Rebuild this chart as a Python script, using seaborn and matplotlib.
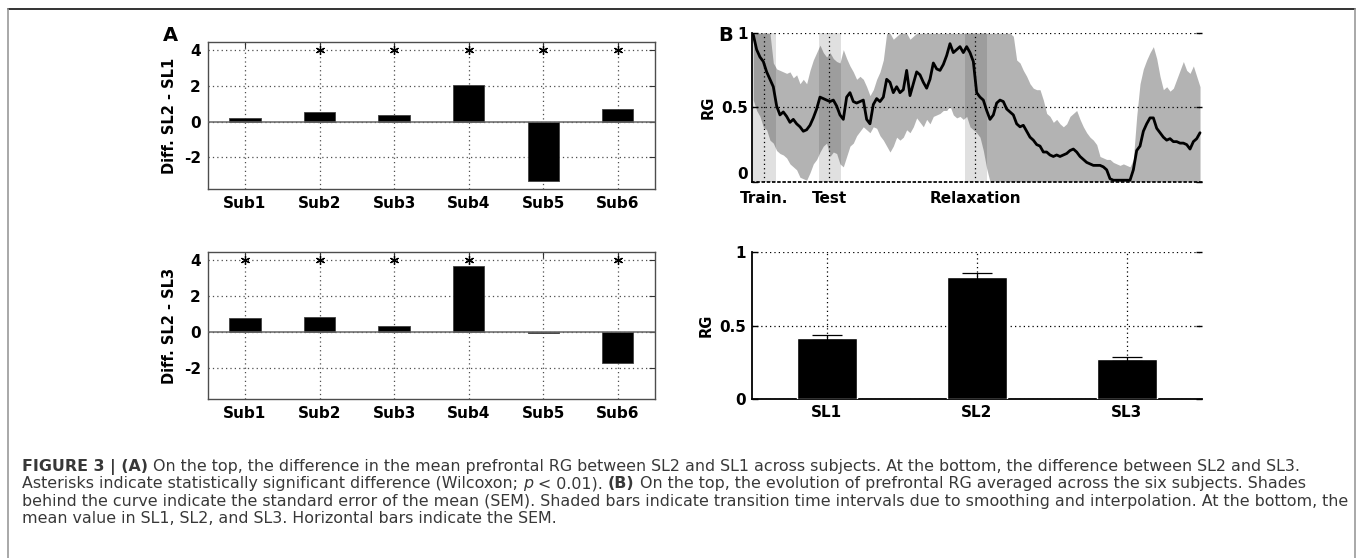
import numpy as np
import pandas as pd
import matplotlib
matplotlib.use("Agg")
import matplotlib.pyplot as plt
import seaborn as sns
from matplotlib.lines import Line2D

# ---------------- data ----------------
subjects = ["Sub1", "Sub2", "Sub3", "Sub4", "Sub5", "Sub6"]
diff_sl2_sl1 = [0.19, 0.56, 0.36, 2.06, -3.35, 0.70]
diff_sl2_sl3 = [0.74, 0.80, 0.30, 3.63, -0.05, -1.75]
sig_sl2_sl1 = [False, True, True, True, True, True]
sig_sl2_sl3 = [True, True, True, True, False, True]
sig_level = 4

levels = ["SL1", "SL2", "SL3"]
rg_mean = [0.42, 0.835, 0.275]
rg_sem = [0.018, 0.027, 0.014]

sample = np.arange(0, 1341, 10)
rg_curve = [
    0.99, 0.89, 0.84, 0.81, 0.74, 0.69, 0.64, 0.51, 0.45, 0.47,
    0.44, 0.40, 0.42, 0.39, 0.37, 0.34, 0.35, 0.38, 0.43, 0.49,
    0.57, 0.56, 0.55, 0.54, 0.55, 0.51, 0.45, 0.42, 0.57, 0.60,
    0.54, 0.53, 0.54, 0.55, 0.42, 0.39, 0.52, 0.56, 0.54, 0.57,
    0.69, 0.67, 0.60, 0.64, 0.60, 0.62, 0.75, 0.58, 0.66, 0.74,
    0.72, 0.67, 0.63, 0.69, 0.80, 0.76, 0.75, 0.79, 0.85, 0.93,
    0.87, 0.89, 0.91, 0.87, 0.91, 0.87, 0.81, 0.60, 0.57, 0.55,
    0.48, 0.42, 0.45, 0.53, 0.55, 0.54, 0.49, 0.47, 0.45, 0.39,
    0.37, 0.38, 0.34, 0.30, 0.28, 0.25, 0.24, 0.20, 0.20, 0.18,
    0.17, 0.18, 0.17, 0.18, 0.19, 0.21, 0.22, 0.20, 0.17, 0.15,
    0.13, 0.12, 0.11, 0.11, 0.11, 0.10, 0.08, 0.02, 0.01, 0.01,
    0.01, 0.01, 0.01, 0.01, 0.08, 0.21, 0.24, 0.34, 0.39, 0.43,
    0.43, 0.36, 0.33, 0.30, 0.28, 0.29, 0.27, 0.27, 0.26, 0.26,
    0.25, 0.22, 0.27, 0.29, 0.33,
]
rg_upper = [
    1.00, 1.00, 1.00, 1.00, 1.00, 1.00, 0.80, 0.76, 0.75, 0.74,
    0.73, 0.74, 0.70, 0.72, 0.66, 0.69, 0.66, 0.75, 0.82, 0.87,
    0.92, 0.87, 0.84, 0.87, 0.83, 0.81, 0.80, 0.89, 0.83, 0.78,
    0.74, 0.69, 0.71, 0.69, 0.64, 0.58, 0.62, 0.69, 0.74, 0.82,
    1.00, 1.00, 0.96, 0.98, 1.00, 1.00, 1.00, 0.96, 0.98, 1.00,
    1.00, 1.00, 1.00, 1.00, 1.00, 1.00, 1.00, 1.00, 1.00, 1.00,
    1.00, 1.00, 1.00, 1.00, 1.00, 1.00, 1.00, 1.00, 1.00, 1.00,
    1.00, 1.00, 1.00, 1.00, 1.00, 1.00, 1.00, 1.00, 0.98, 0.82,
    0.80, 0.75, 0.71, 0.66, 0.63, 0.62, 0.62, 0.55, 0.46, 0.44,
    0.40, 0.42, 0.39, 0.37, 0.39, 0.44, 0.46, 0.48, 0.42, 0.37,
    0.33, 0.30, 0.28, 0.25, 0.17, 0.16, 0.15, 0.15, 0.13, 0.12,
    0.11, 0.12, 0.11, 0.10, 0.15, 0.44, 0.66, 0.76, 0.82, 0.87,
    0.91, 0.83, 0.71, 0.62, 0.64, 0.61, 0.63, 0.69, 0.75, 0.81,
    0.75, 0.73, 0.78, 0.71, 0.64,
]
rg_lower = [
    0.55, 0.48, 0.44, 0.37, 0.35, 0.28, 0.26, 0.21, 0.19, 0.18,
    0.16, 0.12, 0.10, 0.08, 0.03, 0.02, 0.01, 0.06, 0.12, 0.15,
    0.20, 0.24, 0.26, 0.17, 0.20, 0.19, 0.12, 0.10, 0.17, 0.24,
    0.26, 0.31, 0.34, 0.37, 0.35, 0.33, 0.37, 0.36, 0.31, 0.28,
    0.24, 0.20, 0.24, 0.30, 0.28, 0.30, 0.35, 0.33, 0.37, 0.43,
    0.40, 0.37, 0.42, 0.39, 0.44, 0.45, 0.46, 0.48, 0.48, 0.51,
    0.45, 0.43, 0.44, 0.42, 0.44, 0.37, 0.35, 0.33, 0.30, 0.21,
    0.09, 0.00, 0.00, 0.00, 0.00, 0.00, 0.00, 0.00, 0.00, 0.00,
    0.00, 0.00, 0.00, 0.00, 0.00, 0.00, 0.00, 0.00, 0.00, 0.00,
    0.00, 0.00, 0.00, 0.00, 0.00, 0.00, 0.00, 0.00, 0.00, 0.00,
    0.00, 0.00, 0.00, 0.00, 0.00, 0.00, 0.00, 0.00, 0.00, 0.00,
    0.00, 0.00, 0.00, 0.00, 0.00, 0.00, 0.00, 0.00, 0.00, 0.00,
    0.00, 0.00, 0.00, 0.00, 0.00, 0.00, 0.00, 0.00, 0.00, 0.00,
    0.00, 0.00, 0.00, 0.00, 0.00,
]
phase_labels = ["Train.", "Test", "Relaxation"]
phase_ticks = [33, 228, 666]
transitions = [(0, 68), (198, 262), (635, 700)]

caption_lines = [
    [("FIGURE 3 | (A)", "bold", "normal"),
     (" On the top, the difference in the mean prefrontal RG between SL2 and SL1 across subjects. "
      "At the bottom, the difference between SL2 and SL3.", "normal", "normal")],
    [("Asterisks indicate statistically significant difference (Wilcoxon; ", "normal", "normal"),
     ("p", "normal", "italic"),
     (" < 0.01). ", "normal", "normal"),
     ("(B)", "bold", "normal"),
     (" On the top, the evolution of prefrontal RG averaged across the six subjects. Shades", "normal", "normal")],
    [("behind the curve indicate the standard error of the mean (SEM). Shaded bars indicate transition "
      "time intervals due to smoothing and interpolation. At the bottom, the", "normal", "normal")],
    [("mean value in SL1, SL2, and SL3. Horizontal bars indicate the SEM.", "normal", "normal")],
]

# ---------------- style ----------------
sns.set_theme(style="white")
plt.rcParams["font.family"] = ["DejaVu Sans"]
plt.rcParams["font.weight"] = "bold"
plt.rcParams["axes.labelweight"] = "bold"
for k in ("text.color", "axes.labelcolor", "xtick.color", "ytick.color"):
    plt.rcParams[k] = "black"

W, H = 1358, 558
fig = plt.figure(figsize=(W / 100, H / 100), dpi=100)
fig.patch.set_facecolor("white")


def px_axes(l, t, r, b):
    return fig.add_axes([l / W, 1 - b / H, (r - l) / W, (b - t) / H])


axA1 = px_axes(207.7, 42, 655, 189)
axA2 = px_axes(207.7, 251.7, 655, 399.3)
axB1 = px_axes(752.3, 33.3, 1201.7, 181.7)
axB2 = px_axes(751.7, 252.3, 1201.7, 399.3)

TICK_FS = 11
LABEL_FS = 10.5


def diff_panel(ax, vals, sig, ylabel):
    df = pd.DataFrame({"subject": subjects, "diff": vals})
    sns.barplot(data=df, x="subject", y="diff", color="black", saturation=1,
                width=0.42, edgecolor="0.25", linewidth=0.6, ax=ax, zorder=3)
    ax.set_xlim(-0.5, len(subjects) - 0.5)
    ax.set_ylim(-3.77, 4.45)
    ax.set_yticks([-2, 0, 2, 4])
    ax.set_yticklabels(["-2", "0", "2", "4"])
    ax.set_axisbelow(True)
    ax.grid(True, linestyle=(0, (1, 2.5)), color="0.3", linewidth=0.9)
    ax.axhline(0, color="0.4", linewidth=1.1, zorder=4)
    pos = [i for i, s in enumerate(sig) if s]
    ax.plot(pos, [sig_level] * len(pos), ls="none", marker=(6, 2, 0), ms=6.5,
            mec="black", mew=0.9, zorder=5)
    ax.set_xlabel("")
    ax.set_ylabel(ylabel, fontsize=LABEL_FS, fontweight="bold")
    ax.yaxis.set_label_coords(-0.069, 0.5)
    for s in ax.spines.values():
        s.set_visible(True)
        s.set_color("0.3")
        s.set_linewidth(1.0)
    ax.tick_params(direction="in", length=4, width=0.8, top=True, right=True,
                   labelsize=TICK_FS, pad=5, color="0.2")


diff_panel(axA1, diff_sl2_sl1, sig_sl2_sl1, "Diff. SL2 - SL1")
diff_panel(axA2, diff_sl2_sl3, sig_sl2_sl3, "Diff. SL2 - SL3")

# ---- B top: time course ----
ax = axB1
ax.fill_between(sample, rg_lower, rg_upper, color="#b3b3b3", lw=0, zorder=1)
for a, b in transitions:
    ax.axvspan(a, b, color="black", alpha=0.12, lw=0, zorder=2)
sns.lineplot(x=sample, y=rg_curve, color="black", lw=2.0, ax=ax, zorder=4)
ax.set_xlim(-3, 1345)
ax.set_ylim(0, 1)
ax.set_xticks(phase_ticks)
ax.set_xticklabels(phase_labels)
ax.set_yticks([0, 0.5, 1])
ax.set_yticklabels(["0", "0.5", "1"])
ax.get_yticklabels()[0].set_va("bottom")
ax.set_axisbelow(False)
ax.grid(True, linestyle=(0, (1, 2.5)), color="black", linewidth=0.9)
ax.set_ylabel("RG", fontsize=LABEL_FS, fontweight="bold")
ax.set_xlabel("")
ax.spines["top"].set_visible(False)
ax.spines["right"].set_visible(False)
ax.spines["left"].set_visible(True)
ax.spines["left"].set_color("black")
ax.spines["left"].set_linewidth(1.3)
ax.spines["bottom"].set_visible(True)
ax.spines["bottom"].set_color("black")
ax.spines["bottom"].set_linestyle((0, (1, 2)))
ax.tick_params(direction="in", length=4, width=1.0, right=True, left=True,
               labelsize=TICK_FS, pad=3, color="black")
ax.tick_params(axis="x", pad=7)

# ---- B bottom: mean bars ----
ax = axB2
dfb = pd.DataFrame({"level": levels, "rg": rg_mean})
sns.barplot(data=dfb, x="level", y="rg", color="black", saturation=1, width=0.4,
            ax=ax, zorder=3)
ax.errorbar(np.arange(len(levels)), rg_mean, yerr=rg_sem, fmt="none", ecolor="black",
            elinewidth=0.9, capsize=10.5, capthick=0.9, zorder=4)
ax.set_xlim(-0.5, len(levels) - 0.5)
ax.set_ylim(0, 1)
ax.set_yticks([0, 0.5, 1])
ax.set_yticklabels(["0", "0.5", "1"])
ax.set_axisbelow(True)
ax.grid(True, linestyle=(0, (1, 2.5)), color="black", linewidth=0.9)
ax.set_xlabel("")
ax.set_ylabel("RG", fontsize=LABEL_FS, fontweight="bold")
ax.spines["top"].set_visible(False)
ax.spines["right"].set_visible(False)
for k in ("left", "bottom"):
    ax.spines[k].set_visible(True)
    ax.spines[k].set_color("black")
    ax.spines[k].set_linewidth(1.3)
ax.tick_params(direction="in", length=4, width=1.0, right=True, left=True,
               labelsize=TICK_FS, pad=4, color="black")

# ---- panel letters ----
fig.text(170.5 / W, 1 - 35.5 / H, "A", ha="center", va="center", fontsize=14, fontweight="bold")
fig.text(726 / W, 1 - 35.5 / H, "B", ha="center", va="center", fontsize=14, fontweight="bold")

# ---- outer frame ----
fig.add_artist(Line2D([8 / W, 1355 / W], [1 - 9 / H, 1 - 9 / H], transform=fig.transFigure,
                      color="#333333", lw=1.4))
fig.add_artist(Line2D([8 / W, 8 / W], [1 - 9 / H, 0], transform=fig.transFigure,
                      color="#9a9a9a", lw=1.2))
fig.add_artist(Line2D([1355 / W, 1355 / W], [1 - 9 / H, 0], transform=fig.transFigure,
                      color="#9a9a9a", lw=1.2))

# ---- caption ----
renderer = fig.canvas.get_renderer()
CAP_COLOR = "#383838"


def text_width(s, size, weight="normal", style="normal"):
    t = fig.text(0, 0, s, fontsize=size, fontweight=weight, fontstyle=style)
    w = t.get_window_extent(renderer).width
    t.remove()
    return w


ref_line = caption_lines[2][0][0]
base_size = 10.0
cap_size = base_size * (1351 - 22) / text_width(ref_line, base_size)


def draw_runs(x, y, runs, size):
    for s, wgt, sty in runs:
        core = s.strip(" ")
        lead = len(s) - len(s.lstrip(" "))
        trail = len(s) - len(s.rstrip(" "))
        sp = text_width("x x", size, wgt, sty) - text_width("xx", size, wgt, sty)
        x += lead * sp
        t = fig.text(x / W, 1 - y / H, core, ha="left", va="baseline", fontsize=size,
                     fontweight=wgt, fontstyle=sty, color=CAP_COLOR)
        x += t.get_window_extent(renderer).width + trail * sp
    return x


baseline0 = 471
line_gap = 17.4
for i, runs in enumerate(caption_lines):
    draw_runs(22, baseline0 + i * line_gap, runs, cap_size)

fig.savefig("out.png", dpi=100, facecolor="white")
